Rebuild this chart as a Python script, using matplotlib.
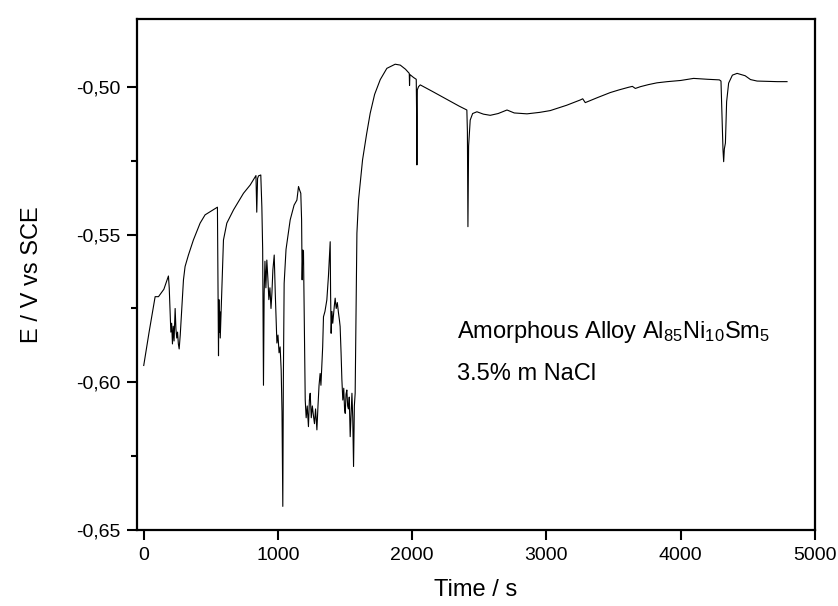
import matplotlib
matplotlib.use("Agg")
import matplotlib.pyplot as plt
from matplotlib.ticker import MultipleLocator, FuncFormatter

plt.rcParams['font.family'] = ['Liberation Sans', 'DejaVu Sans']
plt.rcParams['mathtext.default'] = 'regular'

# time (s) and potential (V vs SCE)
time = [0, 40, 85, 110, 150, 184, 190, 202, 208, 214, 220, 226, 234, 240, 246, 252, 258, 264, 272, 284,
        296, 308, 333, 370, 420, 457, 507, 549, 553, 557, 560, 563, 566, 570, 575, 580, 594, 619, 669,
        743, 793, 830, 836, 842, 848, 855, 872, 880, 886, 892, 897, 903, 910, 917, 925, 932,
        940, 948, 955, 962, 972, 980, 992, 1000, 1008, 1016, 1024, 1030, 1036, 1040, 1046, 1060,
        1091, 1120, 1141, 1153, 1162, 1170, 1176, 1180, 1185, 1190, 1196, 1203, 1210, 1218, 1227,
        1234, 1240, 1248, 1256, 1265, 1272, 1280, 1290, 1298, 1306, 1314, 1320, 1326, 1333, 1339,
        1350, 1364, 1376, 1389, 1392, 1396, 1402, 1408, 1414, 1420, 1426, 1434, 1442, 1451, 1458,
        1463, 1470, 1476, 1483, 1490, 1496, 1501, 1507, 1513, 1519, 1525, 1531, 1538, 1545, 1551,
        1557, 1563, 1569, 1575, 1581, 1588, 1600, 1630, 1660, 1687, 1720, 1762, 1811, 1873, 1911,
        1950, 1978, 1980, 1983, 2010, 2030, 2033, 2035, 2038, 2047, 2060, 2150, 2250, 2350, 2407,
        2411, 2415, 2420, 2432, 2450, 2482, 2530, 2581, 2640, 2706, 2760, 2855, 2950, 3028, 3150,
        3252, 3270, 3289, 3380, 3475, 3540, 3612, 3640, 3662, 3700, 3760, 3823, 3900, 4000, 4096,
        4200, 4288, 4300, 4308, 4315, 4320, 4325, 4333, 4342, 4357, 4385, 4420, 4480, 4520, 4569,
        4650, 4720, 4792]
potential = [-0.5943, -0.5830, -0.5710, -0.5710, -0.5685, -0.5640, -0.5680, -0.5830, -0.5800,
             -0.5870, -0.5810, -0.5860, -0.5750, -0.5820, -0.5850, -0.5830, -0.5870, -0.5887,
             -0.5840, -0.5744, -0.5653, -0.5608, -0.5569, -0.5518, -0.5461, -0.5433, -0.5419,
             -0.5407, -0.5650, -0.5910, -0.5720, -0.5830, -0.5760, -0.5850, -0.5780, -0.5700,
             -0.5518, -0.5461, -0.5416, -0.5360, -0.5332, -0.5304, -0.5300, -0.5424, -0.5310,
             -0.5301, -0.5298, -0.5407, -0.5550, -0.6010, -0.5700, -0.5590, -0.5680, -0.5586,
             -0.5650, -0.5720, -0.5680, -0.5750, -0.5697, -0.5620, -0.5569, -0.5700, -0.5867,
             -0.5840, -0.5900, -0.5880, -0.5960, -0.6100, -0.6420, -0.6000, -0.5665, -0.5550,
             -0.5450, -0.5400, -0.5383, -0.5337, -0.5350, -0.5360, -0.5450, -0.5653, -0.5552,
             -0.5558, -0.5800, -0.6060, -0.6120, -0.6080, -0.6150, -0.6060, -0.6037, -0.6120,
             -0.6080, -0.6116, -0.6140, -0.6090, -0.6161, -0.6080, -0.6010, -0.5970, -0.6010,
             -0.5950, -0.5880, -0.5778, -0.5760, -0.5721, -0.5640, -0.5524, -0.5700, -0.5834,
             -0.5760, -0.5800, -0.5770, -0.5740, -0.5715, -0.5750, -0.5730, -0.5766, -0.5790,
             -0.5811, -0.5900, -0.5990, -0.6060, -0.6020, -0.6090, -0.6105, -0.6040, -0.6026,
             -0.6080, -0.6090, -0.6050, -0.6184, -0.6100, -0.6037, -0.6120, -0.6285, -0.6080,
             -0.6037, -0.5800, -0.5495, -0.5383, -0.5247, -0.5160, -0.5089, -0.5025, -0.4975,
             -0.4937, -0.4923, -0.4926, -0.4940, -0.4954, -0.4995, -0.4958, -0.4968, -0.4974,
             -0.5100, -0.5264, -0.5010, -0.4999, -0.4993, -0.5015, -0.5040, -0.5065, -0.5078,
             -0.5150, -0.5473, -0.5200, -0.5112, -0.5090, -0.5084, -0.5092, -0.5096, -0.5090,
             -0.5078, -0.5088, -0.5091, -0.5086, -0.5080, -0.5062, -0.5044, -0.5040, -0.5053,
             -0.5036, -0.5019, -0.5010, -0.5001, -0.4998, -0.5005, -0.4999, -0.4992, -0.4986,
             -0.4982, -0.4978, -0.4971, -0.4974, -0.4976, -0.4980, -0.5100, -0.5213, -0.5253,
             -0.5210, -0.5190, -0.5050, -0.4987, -0.4960, -0.4954, -0.4962, -0.4975, -0.4980,
             -0.4981, -0.4982, -0.4982]

fig = plt.figure(figsize=(8.38, 6.06), dpi=100)
ax = fig.add_axes([0.1635, 0.1254, 0.809, 0.8432])

ax.plot(time, potential, color='black', lw=0.8)

ax.set_xlim(-50, 5000)
ax.set_ylim(-0.65, -0.477)
ax.xaxis.set_major_locator(MultipleLocator(1000))
ax.yaxis.set_major_locator(MultipleLocator(0.05))
ax.yaxis.set_minor_locator(MultipleLocator(0.025))
ax.yaxis.set_major_formatter(FuncFormatter(lambda v, p: f"{v:.2f}".replace('.', ',')))

ax.tick_params(which='major', direction='out', length=7, width=1.5, labelsize=14, pad=5)
ax.tick_params(which='minor', direction='out', length=4, width=1.5)
ax.tick_params(top=False, right=False)
for s in ax.spines.values():
    s.set_linewidth(1.6)

ax.set_xlabel('Time / s', fontsize=17, labelpad=11)
ax.set_ylabel('E / V vs SCE', fontsize=17, labelpad=24)

ax.text(2335, -0.585, r'Amorphous Alloy Al$_{85}$Ni$_{10}$Sm$_{5}$',
        fontsize=17, va='baseline', ha='left')
ax.text(2335, -0.5992, '3.5% m NaCl', fontsize=17, va='baseline', ha='left')

fig.savefig('out.png', dpi=100)
